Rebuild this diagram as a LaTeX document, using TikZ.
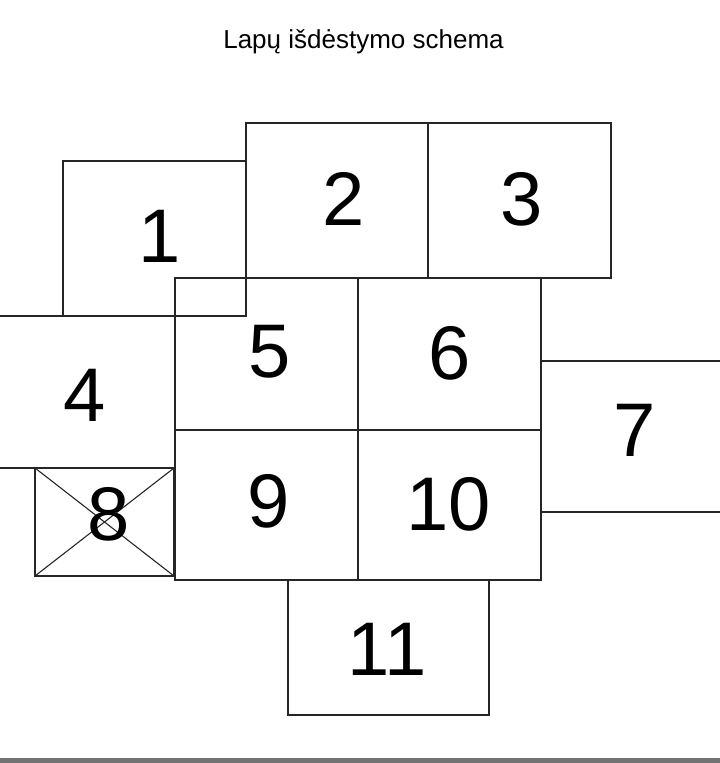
\documentclass[tikz,border=0pt]{standalone}
\usepackage{fontspec}
\setmainfont{Liberation Sans}
\begin{document}
\begin{tikzpicture}[x=1pt,y=-1pt,
  pg/.style={draw=black!85,line width=1.1pt,inner sep=0pt,outer sep=0pt,rectangle},
  num/.style={inner sep=0pt,font=\fontsize{76}{80}\selectfont},
  ttl/.style={inner sep=0pt,font=\fontsize{26}{29}\selectfont,anchor=base}]
\useasboundingbox (0,0) rectangle (720,763);
\clip (0,0) rectangle (720,763);
\node[ttl] (title) at (363.5,48.5) {Lapų išdėstymo schema};
% pages
\node[pg,minimum width=183pt,minimum height=155pt] (b1) at (154.5,238.5) {};
\node[pg,minimum width=182pt,minimum height=155pt] (b2) at (337,200.5) {};
\node[pg,minimum width=183pt,minimum height=155pt] (b3) at (519.5,200.5) {};
\node[pg,minimum width=183pt,minimum height=152pt] (b4) at (83.5,392) {};
\node[pg,minimum width=183pt,minimum height=152pt] (b5) at (266.5,354) {};
\node[pg,minimum width=183pt,minimum height=152pt] (b6) at (449.5,354) {};
\node[pg,minimum width=183pt,minimum height=151pt] (b7) at (632.5,436.5) {};
\node[pg,minimum width=139pt,minimum height=108pt] (b8) at (104.5,522) {};
\node[pg,minimum width=183pt,minimum height=150pt] (b9) at (266.5,505) {};
\node[pg,minimum width=183pt,minimum height=150pt] (b10) at (449.5,505) {};
\node[pg,minimum width=201pt,minimum height=135pt] (b11) at (388.5,647.5) {};
\draw[black!85,line width=1.1pt] (b8.north west) -- (b8.south east)
  (b8.south west) -- (b8.north east);
% numbers
\node[num] (n1) at (160,236) {1};
\node[num] (n2) at (344,199) {2};
\node[num] (n3) at (522,199) {3};
\node[num] (n4) at (85,395) {4};
\node[num] (n5) at (270,352) {5};
\node[num] (n6) at (450,353) {6};
\node[num] (n7) at (635,430) {7};
\node[num] (n8) at (109,514) {8};
\node[num] (n9) at (269,501) {9};
\node[num] (n10) at (449,504) {10};
\node[num] (n11) at (387,649) {11};
% bottom rule
\fill[black!55] (0,758) rectangle (720,763);
\end{tikzpicture}
\end{document}
